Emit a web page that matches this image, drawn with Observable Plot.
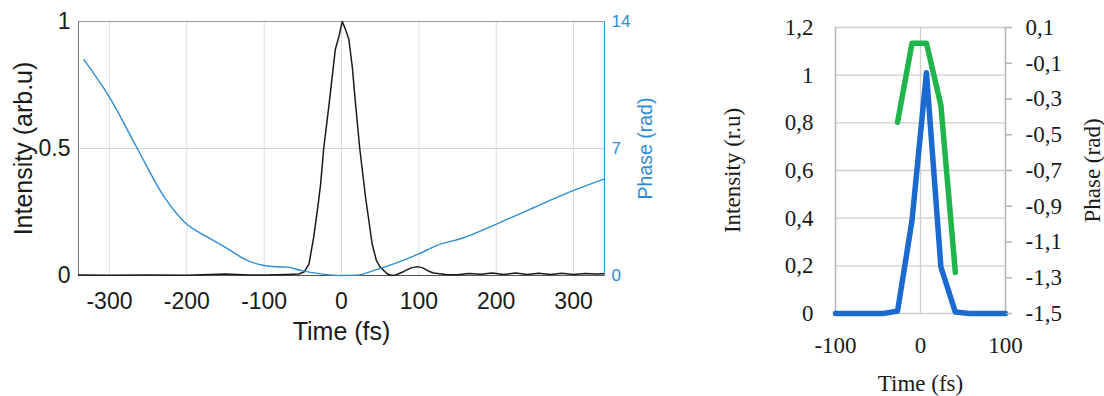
<!DOCTYPE html>
<html><head><meta charset="utf-8">
<script src="https://cdn.jsdelivr.net/npm/d3@7"></script>
<script src="https://cdn.jsdelivr.net/npm/@observablehq/plot@0.6"></script>
<style>
html,body{margin:0;padding:0;background:#fff;}
#wrap{position:relative;width:1104px;height:396px;overflow:hidden;background:#fff;}
#wrap svg{position:absolute;top:0;}
</style></head><body><div id="wrap"></div>
<script>
// ---------- Left panel (MATLAB-style) ----------
const leftXDomain = [-340, 340];
const leftXTicks = [-300, -200, -100, 0, 100, 200, 300];
const leftYTicks = [0, 0.5, 1];
const leftPhaseTicks = [0, 7, 14];
const leftTime = [-340, -300, -250, -200, -170, -150, -120, -100, -70, -55, -48, -42, -36, -31, -27, -23, -16, -8, -3.4, 1, 5, 9.5, 14, 18, 23.6, 31, 39.6, 45, 50, 59, 65, 70, 80, 90, 98, 105, 112, 119, 135, 150, 165, 180, 195, 210, 225, 240, 255, 270, 285, 300, 315, 330, 340];
const leftIntensity = [0.002, 0.001, 0.002, 0.001, 0.004, 0.006, 0.002, 0.002, 0.004, 0.006, 0.015, 0.046, 0.15, 0.26, 0.36, 0.5, 0.676, 0.89, 0.94, 1.0, 0.97, 0.93, 0.82, 0.68, 0.5, 0.31, 0.125, 0.06, 0.033, 0.007, 0.0, 0.002, 0.015, 0.03, 0.035, 0.03, 0.018, 0.01, 0.004, 0.003, 0.008, 0.005, 0.01, 0.004, 0.01, 0.004, 0.009, 0.004, 0.009, 0.004, 0.008, 0.006, 0.007];
const leftPhaseTime = [-333, -300, -264, -229, -201, -173, -147, -122, -100, -85, -70, -53, -27, 0, 20, 42, 67.5, 100, 123, 158, 201, 240, 300, 340];
const leftPhase = [11.9, 9.83, 7.0, 4.32, 2.86, 2.11, 1.47, 0.83, 0.55, 0.48, 0.46, 0.28, 0.09, 0.0, 0.02, 0.28, 0.64, 1.19, 1.65, 2.08, 2.85, 3.58, 4.69, 5.33];

// ---------- Right panel (Excel-style) ----------
const rightXDomain = [-100, 100];
const rightXTicks = [-100, 0, 100];
const rightYTicks = [0, 0.2, 0.4, 0.6, 0.8, 1, 1.2];
const rightPhaseDomain = [-1.5, 0.1];
const rightPhaseTicks = [0.1, -0.1, -0.3, -0.5, -0.7, -0.9, -1.1, -1.3, -1.5];
const rightTime = [-100, -61, -44, -27, -10, 7, 24, 41, 58, 75, 100];
const rightIntensity = [0, 0, 0, 0.01, 0.39, 1.01, 0.195, 0.006, 0, 0, 0];
const rightPhaseTime = [-27, -10, 7, 24, 41];
const rightPhase = [-0.43, 0.012, 0.012, -0.336, -1.27];

const wrap = document.getElementById("wrap");
const plain = d => String(d);
const comma = d => String(+d.toFixed(1)).replace(".", ",");

const lInt = leftTime.map((t, i) => ({t, v: leftIntensity[i]}));
const lPh = leftPhaseTime.map((t, i) => ({t, v: leftPhase[i]}));
const rInt = rightTime.map((t, i) => ({t, v: rightIntensity[i]}));
const rPh = rightPhaseTime.map((t, i) => ({t, v: rightPhase[i]}));

const sans = "'Liberation Sans', Arial, Helvetica, sans-serif";
const serif = "'Liberation Serif', 'Times New Roman', serif";
const blueL = "#2f8dd4";

const LM = {width: 680, height: 396, marginLeft: 78, marginRight: 76, marginTop: 21, marginBottom: 121};

function place(svg, left) {
  svg.style.position = "absolute";
  svg.style.left = left + "px";
  svg.style.top = "0px";
  svg.style.background = "transparent";
  svg.style.overflow = "visible";
  svg.style.maxWidth = "none";
  wrap.appendChild(svg);
}

const lbl = {textAnchor: "middle", lineAnchor: "middle"};

// Left main (intensity)
place(Plot.plot({
  ...LM,
  style: {fontFamily: sans, background: "transparent"},
  x: {domain: leftXDomain},
  y: {domain: [0, 1]},
  marks: [
    Plot.gridX(leftXTicks, {stroke: "#dcdcdc", strokeOpacity: 1}),
    Plot.gridY([0.5], {stroke: "#d6d6d6", strokeOpacity: 1}),
    Plot.frame({stroke: "#9a9a9a"}),
    Plot.ruleY([0], {stroke: "#555"}),
    Plot.ruleX([leftXDomain[0]], {stroke: "#777"}),
    Plot.axisX(leftXTicks, {tickSize: 0, tickPadding: 17, fontSize: 23, fill: "#1a1a1a", label: null, tickFormat: plain}),
    Plot.axisY(leftYTicks, {tickSize: 0, tickPadding: 8, fontSize: 23, fill: "#1a1a1a", label: null, tickFormat: plain}),
    Plot.line(lInt, {x: "t", y: "v", stroke: "#1a1a1a", strokeWidth: 1.5}),
    Plot.text(["Intensity (arb.u)"], {...lbl, text: d => d, frameAnchor: "left", dx: -55, rotate: -90, fontSize: 25, fill: "#1a1a1a"}),
    Plot.text(["Time (fs)"], {...lbl, text: d => d, frameAnchor: "bottom", dy: 56, fontSize: 25, fill: "#1a1a1a"})
  ]
}), 0);

// Left overlay (phase, right axis)
place(Plot.plot({
  ...LM,
  style: {fontFamily: sans, background: "transparent"},
  x: {domain: leftXDomain, axis: null},
  y: {domain: [0, 14]},
  marks: [
    Plot.ruleX([leftXDomain[1]], {stroke: blueL}),
    Plot.axisY(leftPhaseTicks, {anchor: "right", tickSize: 0, tickPadding: 7, fontSize: 17, fill: blueL, label: null, tickFormat: plain}),
    Plot.line(lPh, {x: "t", y: "v", stroke: blueL, strokeWidth: 1.4, curve: "monotone-x"}),
    Plot.text(["Phase (rad)"], {...lbl, text: d => d, frameAnchor: "right", dx: 41, rotate: -90, fontSize: 19.5, fill: blueL})
  ]
}), 0);

const RM = {width: 424, height: 396, marginLeft: 155, marginRight: 99, marginTop: 27, marginBottom: 83};

// Right main (intensity)
place(Plot.plot({
  ...RM,
  style: {fontFamily: serif, background: "transparent"},
  x: {domain: rightXDomain},
  y: {domain: [0, 1.2]},
  marks: [
    Plot.gridY(rightYTicks, {stroke: "#cfcfcf", strokeOpacity: 1, strokeWidth: 1.3}),
    Plot.gridX([0], {stroke: "#cfcfcf", strokeOpacity: 1, strokeWidth: 1.3}),
    Plot.ruleX(rightXDomain, {stroke: "#b5b5b5", strokeWidth: 1.5}),
    Plot.axisX(rightXTicks, {tickSize: 0, tickPadding: 23, fontSize: 23, fill: "#1a1a1a", label: null, tickFormat: plain}),
    Plot.axisY(rightYTicks, {tickSize: 0, tickPadding: 22, fontSize: 23, fill: "#1a1a1a", label: null, tickFormat: comma}),
    Plot.line(rInt, {x: "t", y: "v", stroke: "#1a6ad0", strokeWidth: 5.5}),
    Plot.text(["Intensity (r.u)"], {...lbl, text: d => d, frameAnchor: "left", dx: -103, rotate: -90, fontSize: 23, fill: "#1a1a1a"}),
    Plot.text(["Time (fs)"], {...lbl, text: d => d, frameAnchor: "bottom", dy: 70, fontSize: 23, fill: "#1a1a1a"})
  ]
}), 680);

// Right overlay (phase)
place(Plot.plot({
  ...RM,
  style: {fontFamily: serif, background: "transparent"},
  x: {domain: rightXDomain, axis: null},
  y: {domain: rightPhaseDomain},
  marks: [
    Plot.axisY(rightPhaseTicks, {anchor: "right", tickSize: 6, tickPadding: 14, stroke: "#b5b5b5", strokeWidth: 1.5, fontSize: 23, fill: "#1a1a1a", label: null, tickFormat: comma}),
    Plot.line(rPh, {x: "t", y: "v", stroke: "#1fb54a", strokeWidth: 5.5}),
    Plot.text(["Phase (rad)"], {...lbl, text: d => d, frameAnchor: "right", dx: 87, rotate: -90, fontSize: 23, fill: "#1a1a1a"})
  ]
}), 680);
</script></body></html>
